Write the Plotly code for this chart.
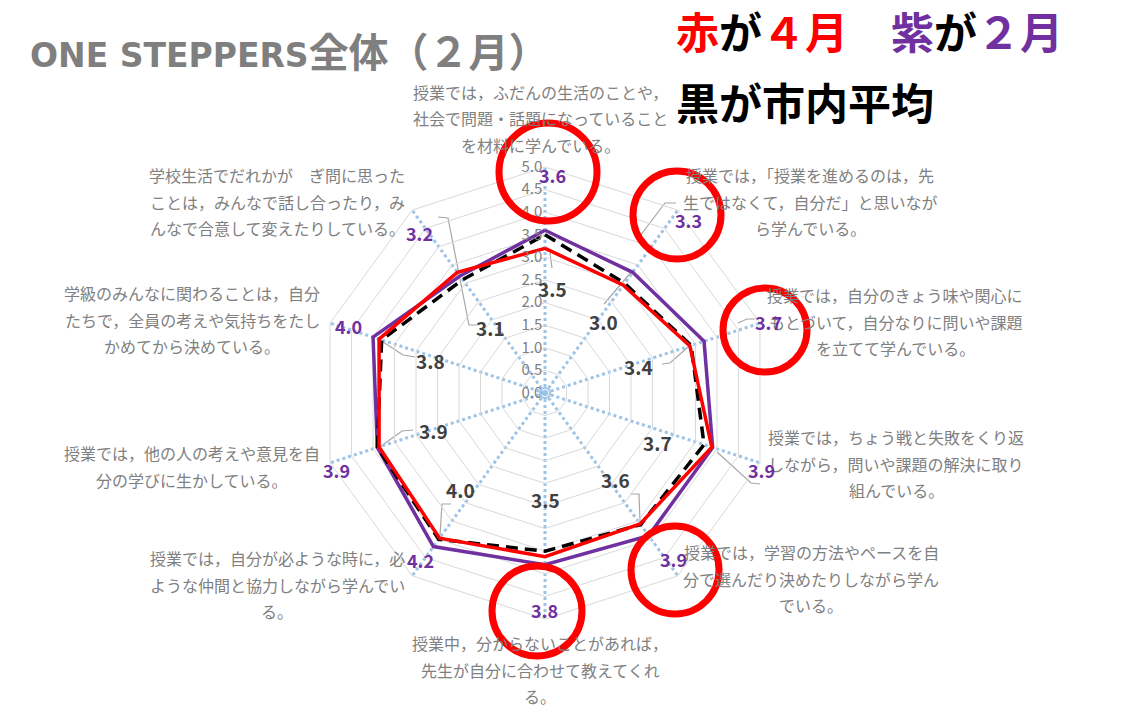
import plotly.graph_objects as go

W, H = 1140, 709
OFF = 8  # ページ本体の余白分をずらす

# 設問（表示用に行ごとに分割）
categories = [
    ["授業では，ふだんの生活のことや，", "社会で問題・話題になっていること", "を材料に学んでいる。"],
    ["授業では，「授業を進めるのは，先", "生ではなくて，自分だ」と思いなが", "ら学んでいる。"],
    ["授業では，自分のきょう味や関心に", "もとづいて，自分なりに問いや課題", "を立てて学んでいる。"],
    ["授業では，ちょう戦と失敗をくり返", "しながら，問いや課題の解決に取り", "組んでいる。"],
    ["授業では，学習の方法やペースを自", "分で選んだり決めたりしながら学ん", "でいる。"],
    ["授業中，分からないことがあれば，", "先生が自分に合わせて教えてくれ", "る。"],
    ["授業では，自分が必ような時に，必", "ような仲間と協力しながら学んでい", "る。"],
    ["授業では，他の人の考えや意見を自", "分の学びに生かしている。"],
    ["学級のみんなに関わることは，自分", "たちで，全員の考えや気持ちをたし", "かめてから決めている。"],
    ["学校生活でだれかが　ぎ問に思った", "ことは，みんなで話し合ったり，み", "んなで合意して変えたりしている。"],
]

feb = [3.6, 3.3, 3.7, 3.9, 3.9, 3.8, 4.2, 3.9, 4.0, 3.2]          # 紫
apr = [3.2, 2.95, 3.37, 3.88, 3.58, 3.62, 3.97, 3.86, 3.86, 3.3]  # 赤
city = [3.5, 3.0, 3.4, 3.7, 3.6, 3.5, 4.0, 3.9, 3.8, 3.1]         # 黒（市内平均）

# ラベル位置（画面ピクセル）
cat_pos = [(540, 92), (810, 175), (895, 295), (896, 437), (811, 552),
           (540, 643), (277, 558), (192, 453), (192, 293), (277, 175)]
feb_lab_pos = [(552, 160), (688, 205), (768, 322), (777, 485), (673, 574),
               (544, 625), (420, 575), (321, 470), (333, 326), (419, 218)]
city_lab_pos = [(552, 288), (603, 321), (638, 366), (657, 442), (615, 495),
                (545, 515), (460, 505), (433, 430), (430, 360), (490, 327)]
circles = [(548, 172, 49), (677, 215, 44), (765, 330, 42), (675, 570, 44), (537, 611, 45)]
# 引き出し線（画面ピクセル）
leaders = [
    [(438, 217), (448, 218), (469, 325), (477, 325)],
    [(550, 253), (552, 268)],
    [(604, 304), (633, 270)],
    [(662, 364), (670, 363), (688, 347)],
    [(377, 338), (403, 355), (415, 357)],
    [(377, 449), (402, 431), (413, 430)],
    [(630, 494), (639, 494), (640, 522)],
    [(451, 504), (442, 504), (440, 535)],
    [(760, 484), (751, 483), (717, 452)],
    [(676, 203), (665, 203), (640, 236)],
    [(755, 319), (747, 319), (738, 323)],
]

PURPLE = "#7030A0"
GRAY = "#808080"
JP = "Noto Sans CJK JP"


def px(x, y):
    return (x - OFF) / W, 1 - (y - OFF) / H


theta = ["".join(c) for c in categories]
theta_c = theta + theta[:1]

fig = go.Figure()
fig.add_trace(go.Scatterpolar(r=feb + feb[:1], theta=theta_c, mode="lines",
                              line=dict(color=PURPLE, width=3.5), name="2月"))
fig.add_trace(go.Scatterpolar(r=city + city[:1], theta=theta_c, mode="lines",
                              line=dict(color="black", width=3.5, dash="12px,7px"), name="市内平均"))
fig.add_trace(go.Scatterpolar(r=apr + apr[:1], theta=theta_c, mode="lines",
                              line=dict(color="#FF0000", width=3.5), name="4月"))

annotations = []
for lines, (cx, cy) in zip(categories, cat_pos):
    for i, t in enumerate(lines):
        x, y = px(cx, cy + i * 26.5)
        annotations.append(dict(x=x, y=y, text=t, showarrow=False, xref="paper", yref="paper",
                                xanchor="center", yanchor="middle",
                                font=dict(family=JP, size=16, color=GRAY)))
for v, (cx, cy) in zip(feb, feb_lab_pos):
    x, y = px(cx, cy)
    annotations.append(dict(x=x, y=y, text=f"<b>{v:.1f}</b>", showarrow=False, xref="paper",
                            yref="paper", font=dict(family=JP, size=18, color=PURPLE)))
for v, (cx, cy) in zip(city, city_lab_pos):
    x, y = px(cx, cy)
    annotations.append(dict(x=x, y=y, text=f"<b>{v:.1f}</b>", showarrow=False, xref="paper",
                            yref="paper", font=dict(family=JP, size=19, color="#404040")))

# タイトルと凡例テキスト
x, y = px(28, 50)
annotations.append(dict(x=x, y=y, showarrow=False,
                        text="<b><span style='font-family:DejaVu Sans;font-size:33px'>ONE STEPPERS</span>"
                             "全体（２月）</b>",
                        xref="paper", yref="paper", xanchor="left", yanchor="middle",
                        font=dict(family=JP, size=40, color="#7f7f7f")))
x, y = px(674, 30)
annotations.append(dict(x=x, y=y, xref="paper", yref="paper", xanchor="left", yanchor="middle",
                        showarrow=False, font=dict(family=JP, size=43, color="black"),
                        text="<b><span style='color:#FF0000'>赤</span>が<span style='color:#FF0000'>４月</span>"
                             "　<span style='color:#7030A0'>紫</span>が<span style='color:#7030A0'>２月</span></b>"))
x, y = px(674, 101)
annotations.append(dict(x=x, y=y, xref="paper", yref="paper", xanchor="left", yanchor="middle",
                        showarrow=False, font=dict(family=JP, size=43, color="black"),
                        text="<b>黒が市内平均</b>"))

shapes = []
for pts in leaders:
    path = ""
    for k, (lx, ly) in enumerate(pts):
        sx, sy = px(lx, ly)
        path += ("M" if k == 0 else "L") + f"{sx:.5f},{sy:.5f}"
    shapes.append(dict(type="path", xref="paper", yref="paper", path=path, layer="below",
                       line=dict(color="#a6a6a6", width=1.2)))
for cx, cy, r in circles:
    x0, y1 = px(cx - r, cy - r)
    x1, y0 = px(cx + r, cy + r)
    shapes.append(dict(type="circle", xref="paper", yref="paper", x0=x0, x1=x1, y0=y0, y1=y1,
                       line=dict(color="#FF0000", width=7)))
x0, y1 = px(540, 388)
x1, y0 = px(550, 398)
shapes.append(dict(type="circle", xref="paper", yref="paper", x0=x0, x1=x1, y0=y0, y1=y1,
                   line=dict(color="#9dc3e6", width=2)))

R = 226
CX, CY = 545 - OFF, 393 - OFF
fig.update_layout(
    width=W, height=H,
    margin=dict(l=0, r=0, t=0, b=0),
    paper_bgcolor="white",
    showlegend=False,
    annotations=annotations,
    shapes=shapes,
    polar=dict(
        domain=dict(x=[(CX - R) / W, (CX + R) / W], y=[1 - (CY + R) / H, 1 - (CY - R) / H]),
        bgcolor="rgba(0,0,0,0)",
        gridshape="linear",
        radialaxis=dict(range=[0, 5], dtick=0.5, tickformat=".1f", angle=90, tickangle=90,
                        side="counterclockwise", showline=False, ticks="",
                        gridcolor="#d9d9d9", gridwidth=1,
                        tickfont=dict(family=JP, size=15, color=GRAY)),
        angularaxis=dict(rotation=90, direction="clockwise", showticklabels=False, ticks="",
                         gridcolor="#9dc3e6", gridwidth=2.5, griddash="dot",
                         showline=True, linecolor="#d9d9d9", linewidth=1),
    ),
)

fig.write_html("out.html")
